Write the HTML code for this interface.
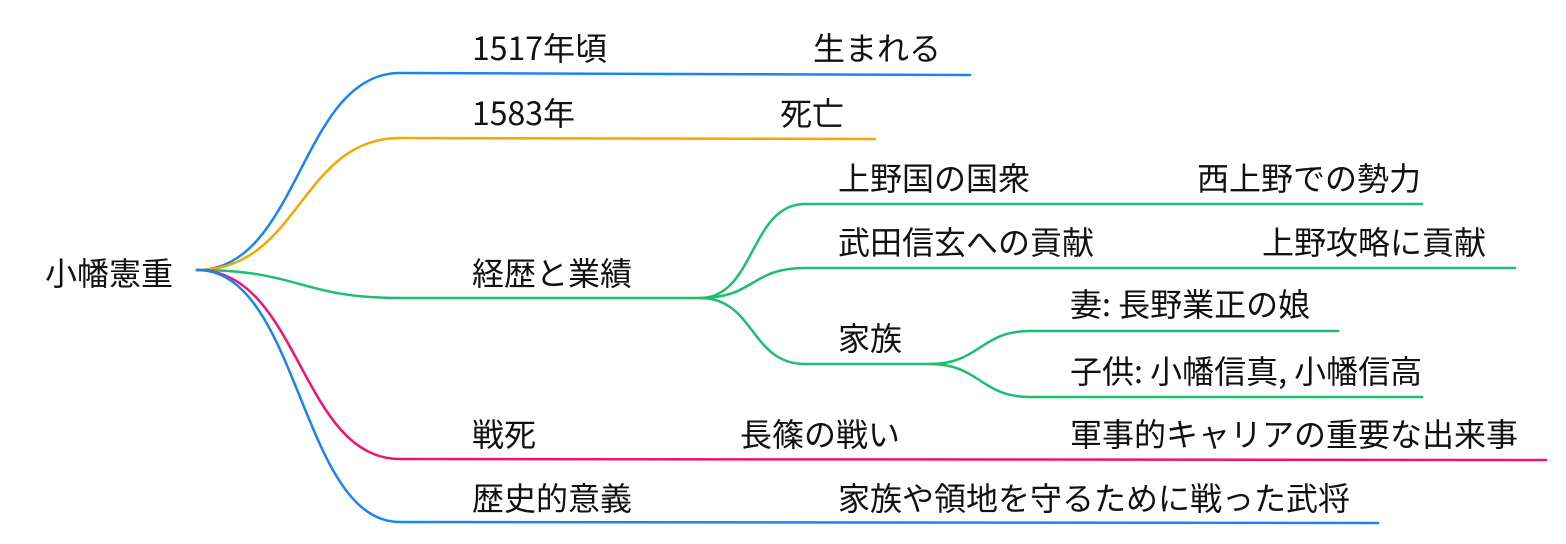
<!DOCTYPE html>
<html><head><meta charset="utf-8"><style>
html,body{margin:0;padding:0;background:#fff;}
svg{display:block}
text{font-family:"Noto Sans CJK JP","Liberation Sans",sans-serif;font-size:32px;fill:#111;dominant-baseline:central}
path{fill:none;stroke-width:2.5;stroke-linecap:round}
</style></head><body>
<svg width="1566" height="544" viewBox="0 0 1566 544" xmlns="http://www.w3.org/2000/svg">
<path stroke="#1a84f0" d="M197 270 C300 270 300 73 400 73 L970 75"/>
<path stroke="#f2a900" d="M197 270 C300 270 300 138 400 138 L875 139"/>
<path stroke="#1dbf6c" d="M197 270 C300 270 300 298 400 298 L700 298"/>
<path stroke="#f0136f" d="M197 270 C300 270 300 459 400 459 L1546 460"/>
<path stroke="#1a84f0" d="M197 270 C300 270 300 522 400 522 L1378 523"/>
<path stroke="#1dbf6c" d="M700 298 C755 298 750 204 805 204 L1422 204"/>
<path stroke="#1dbf6c" d="M700 298 C755 298 750 268 805 268 L1515 268"/>
<path stroke="#1dbf6c" d="M700 298 C755 298 750 364 805 364 L930 364"/>
<path stroke="#1dbf6c" d="M930 364 C980 364 980 331 1030 331 L1338 331"/>
<path stroke="#1dbf6c" d="M930 364 C980 364 980 397 1030 397 L1422 397"/>
<text x="45" y="272">小幡憲重</text>
<text x="472" y="47">1517年頃</text>
<text x="813" y="47">生まれる</text>
<text x="472" y="112">1583年</text>
<text x="780" y="112">死亡</text>
<text x="472" y="272">経歴と業績</text>
<text x="838" y="177">上野国の国衆</text>
<text x="1197" y="177">西上野での勢力</text>
<text x="838" y="241">武田信玄への貢献</text>
<text x="1262" y="241">上野攻略に貢献</text>
<text x="838" y="337">家族</text>
<text x="1070" y="303">妻: 長野業正の娘</text>
<text x="1070" y="370">子供: 小幡信真, 小幡信高</text>
<text x="472" y="433">戦死</text>
<text x="740" y="433">長篠の戦い</text>
<text x="1070" y="433">軍事的キャリアの重要な出来事</text>
<text x="472" y="497">歴史的意義</text>
<text x="838" y="497">家族や領地を守るために戦った武将</text>
</svg>
</body></html>
